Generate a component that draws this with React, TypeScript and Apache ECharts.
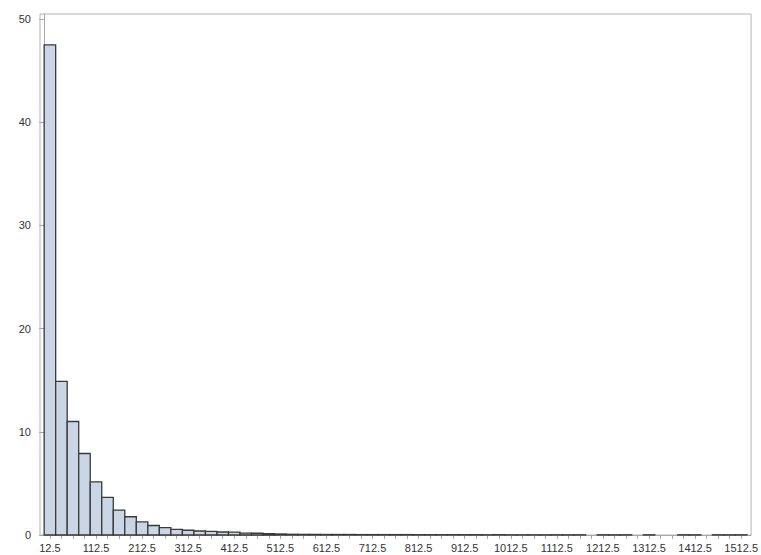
import React, { useEffect, useRef } from "react";
import * as echarts from "echarts";

const binWidth = 25;
const binCenters = [
  12.5, 37.5, 62.5, 87.5, 112.5, 137.5, 162.5, 187.5, 212.5, 237.5,
  262.5, 287.5, 312.5, 337.5, 362.5, 387.5, 412.5, 437.5, 462.5, 487.5,
  512.5, 537.5, 562.5, 587.5, 612.5, 637.5, 662.5, 687.5, 712.5, 737.5,
  762.5, 787.5, 812.5, 837.5, 862.5, 887.5, 912.5, 937.5, 962.5, 987.5,
  1012.5, 1037.5, 1062.5, 1087.5, 1112.5, 1137.5, 1162.5, 1187.5, 1212.5, 1237.5,
  1262.5, 1287.5, 1312.5, 1337.5, 1362.5, 1387.5, 1412.5, 1437.5, 1462.5, 1487.5,
  1512.5,
];
const percents = [
  47.5, 14.9, 11.0, 7.9, 5.15, 3.65, 2.42, 1.77, 1.28, 0.92,
  0.72, 0.55, 0.46, 0.39, 0.36, 0.29, 0.27, 0.19, 0.17, 0.14,
  0.1, 0.07, 0.06, 0.06, 0.05, 0.05, 0.05, 0.04, 0.04, 0.04,
  0.04, 0.04, 0.03, 0.03, 0.03, 0.03, 0.03, 0.03, 0.02, 0.03,
  0.02, 0.02, 0.02, 0.02, 0.02, 0.02, 0.02, 0, 0.02, 0.02,
  0.02, 0, 0.02, 0, 0, 0.02, 0.02, 0, 0.02, 0.02,
  0.02,
];
const xTickLabels = [
  "12.5", "112.5", "212.5", "312.5", "412.5", "512.5", "612.5", "712.5",
  "812.5", "912.5", "1012.5", "1112.5", "1212.5", "1312.5", "1412.5", "1512.5",
];
const yTickLabels = ["0", "10", "20", "30", "40", "50"];

const xMin = -9;
const xMax = 1534;
const yMax = 50.5;

export default function App() {
  const ref = useRef<HTMLDivElement>(null);
  useEffect(() => {
    if (!ref.current) return;
    const chart = echarts.init(ref.current, null, { renderer: "svg" });
    const data = binCenters.map((c, i) => [c, percents[i]]);
    chart.setOption({
      animation: false,
      backgroundColor: "#ffffff",
      grid: {
        left: 40,
        top: 14,
        right: 9,
        bottom: 20,
        containLabel: false,
        show: true,
        borderColor: "#b4b4b4",
        borderWidth: 1,
      },
      xAxis: {
        type: "value",
        min: xMin,
        max: xMax,
        splitLine: { show: false },
        axisLine: { show: true, lineStyle: { color: "#a8a8a8", width: 1 } },
        axisTick: {
          show: true,
          length: 4,
          lineStyle: { color: "#a8a8a8" },
          customValues: binCenters,
        },
        axisLabel: {
          customValues: xTickLabels.map((s) => parseFloat(s)),
          formatter: (v: number) => {
            const s = String(v);
            return xTickLabels.includes(s) ? s : "";
          },
          color: "#333333",
          fontSize: 11,
          fontFamily: "Liberation Sans, Arial, sans-serif",
          margin: 7,
        },
      },
      yAxis: {
        type: "value",
        min: 0,
        max: yMax,
        splitLine: { show: false },
        axisLine: { show: true, lineStyle: { color: "#a8a8a8", width: 1 } },
        axisTick: {
          show: true,
          length: 5,
          lineStyle: { color: "#a8a8a8" },
          customValues: yTickLabels.map((s) => parseFloat(s)),
        },
        axisLabel: {
          customValues: yTickLabels.map((s) => parseFloat(s)),
          color: "#333333",
          fontSize: 11,
          fontFamily: "Liberation Sans, Arial, sans-serif",
          margin: 9,
        },
      },
      series: [
        {
          type: "custom",
          data,
          encode: { x: 0, y: 1 },
          renderItem: (params: any, api: any) => {
            const c = api.value(0);
            const v = api.value(1);
            if (!(v > 0)) return null;
            const p0 = api.coord([c - binWidth / 2, v]);
            const p1 = api.coord([c + binWidth / 2, 0]);
            return {
              type: "rect",
              shape: {
                x: p0[0],
                y: p0[1],
                width: p1[0] - p0[0],
                height: p1[1] - p0[1],
              },
              style: {
                fill: "#cad5e5",
                stroke: "#3a3a3a",
                lineWidth: 1.3,
              },
            };
          },
        },
      ],
    });
    return () => chart.dispose();
  }, []);
  return (
    <div
      ref={ref}
      style={{ position: "fixed", left: 0, top: 0, width: 761, height: 555 }}
    />
  );
}
